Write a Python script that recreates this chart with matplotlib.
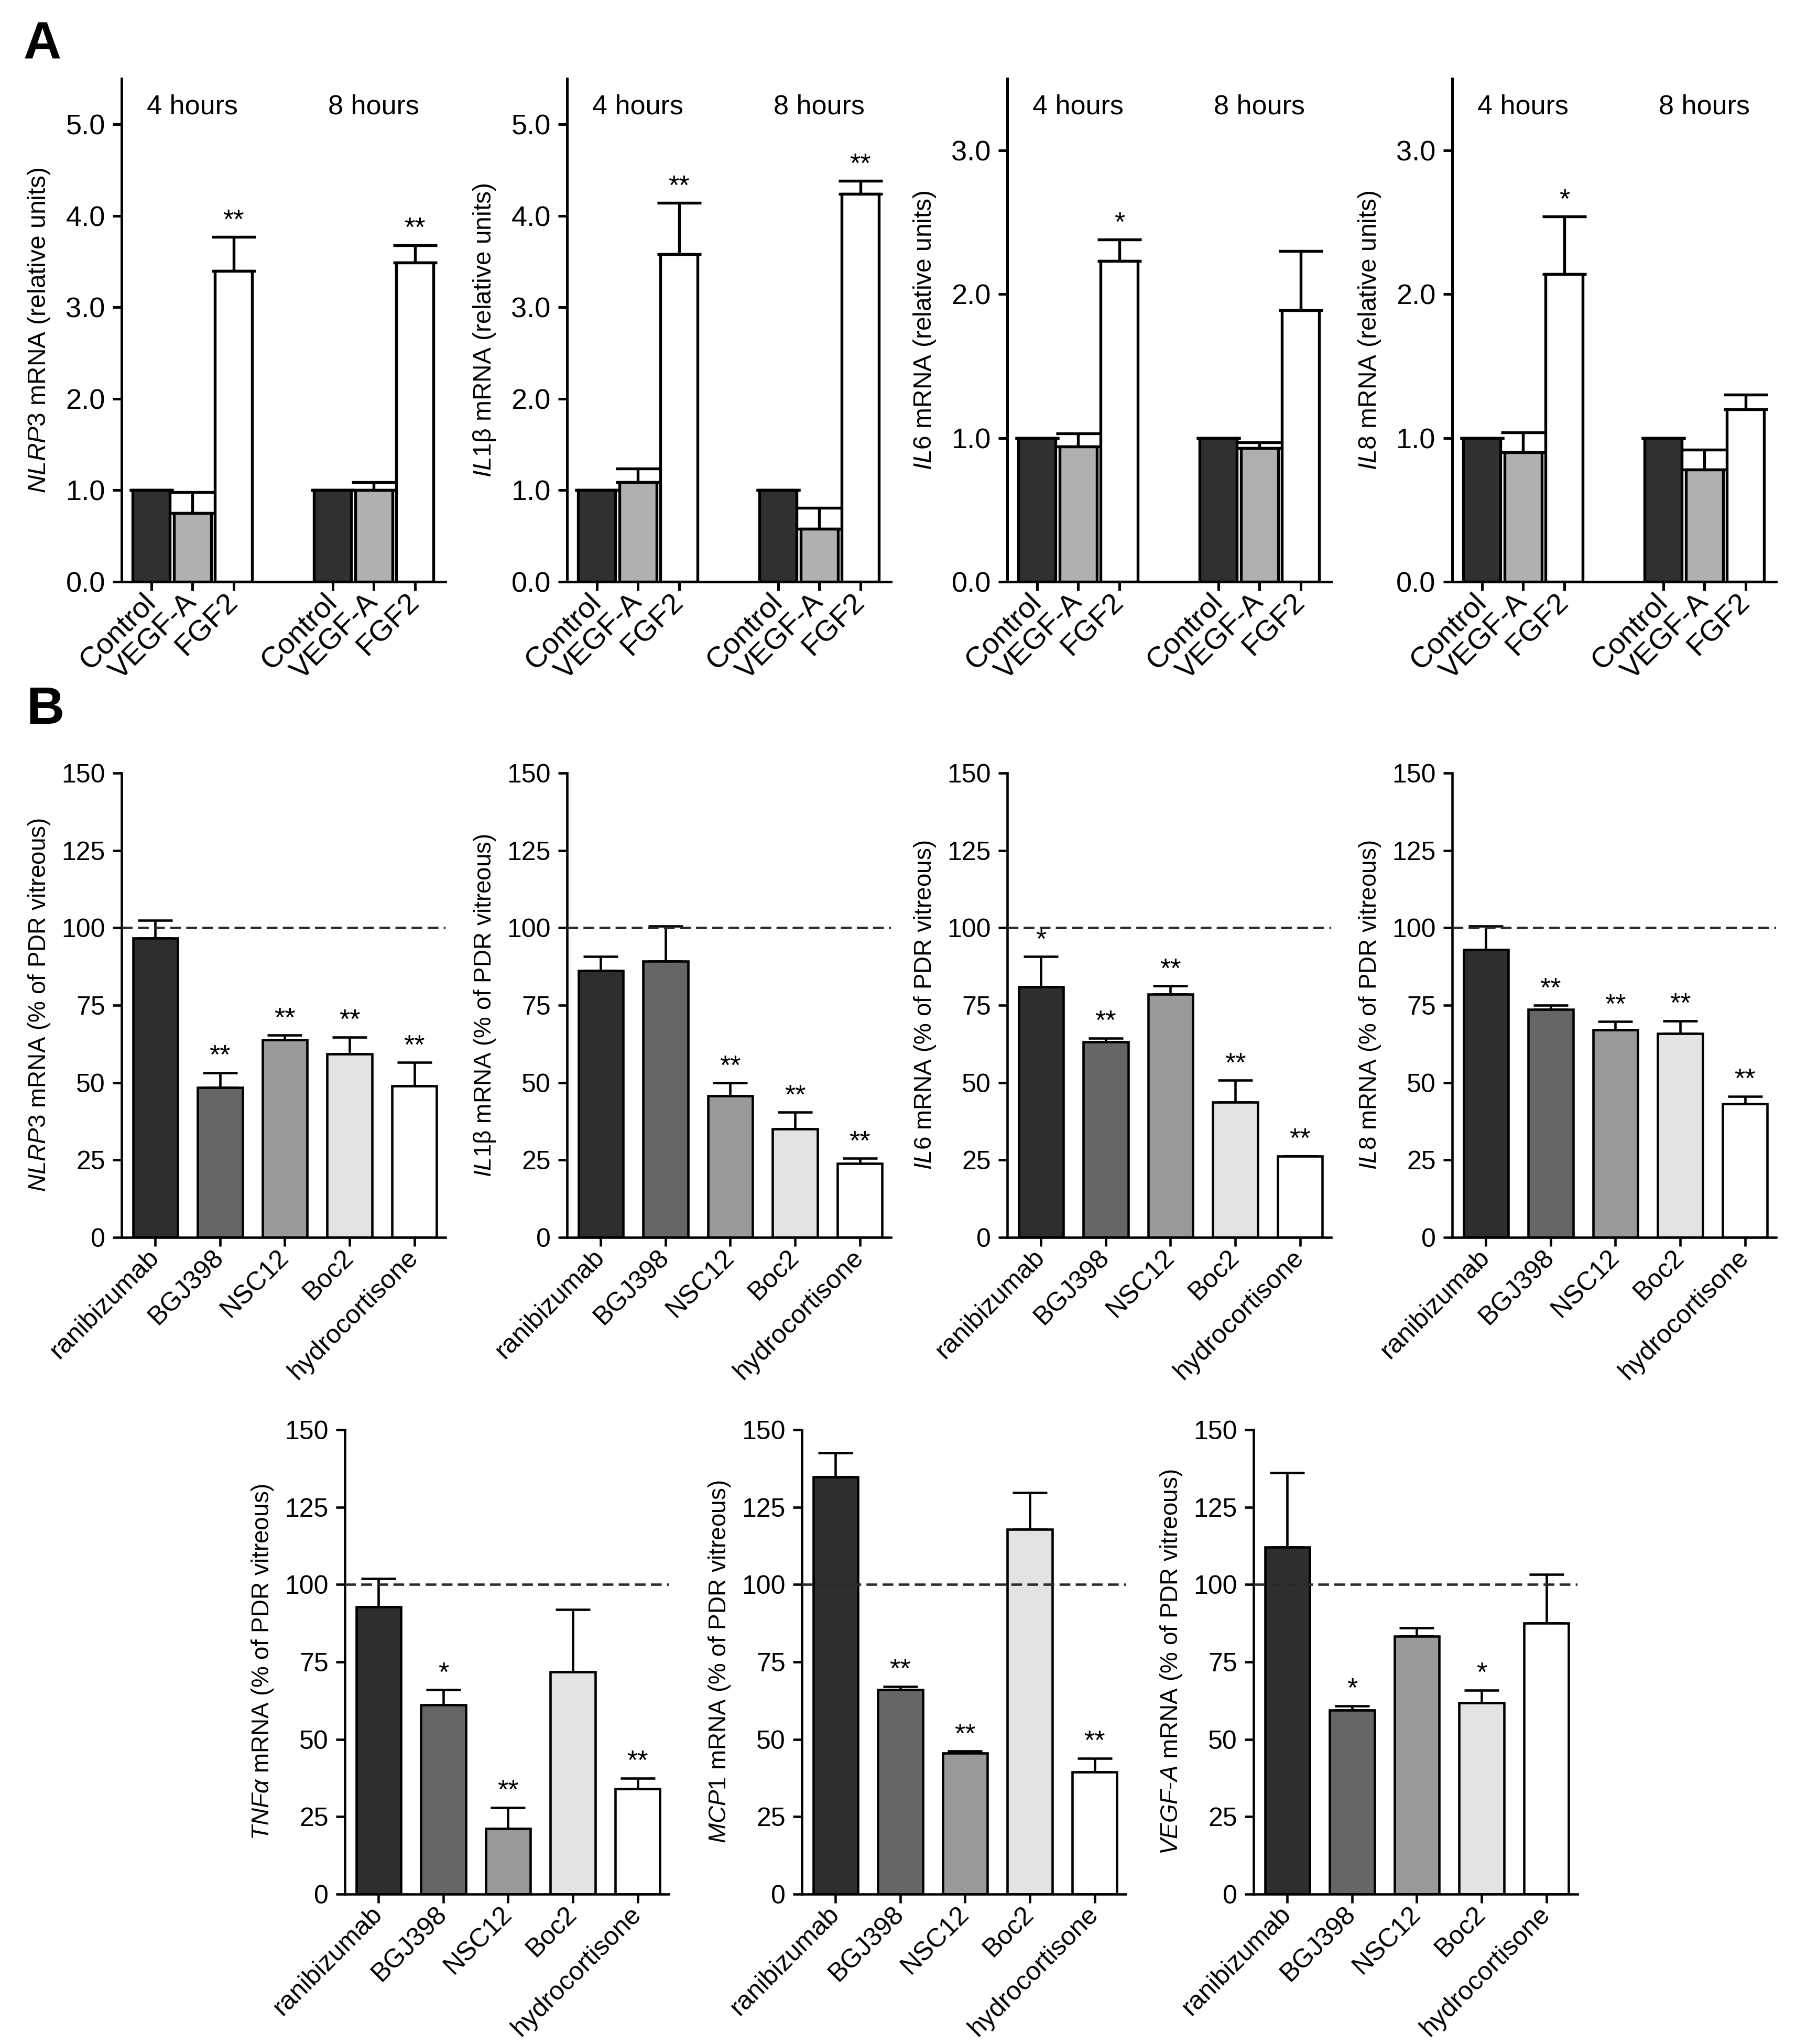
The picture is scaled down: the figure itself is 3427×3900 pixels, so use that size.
import matplotlib.pyplot as plt
import numpy as np

plt.rcParams['font.family'] = 'Liberation Sans'
plt.rcParams['mathtext.fontset'] = 'custom'
plt.rcParams['mathtext.rm'] = 'Liberation Sans'
plt.rcParams['mathtext.it'] = 'Liberation Sans:italic'

# ---- panel A data (relative units, mean and SEM) ----
a_times = ['4 hours', '8 hours']
a_treat = ['Control', 'VEGF-A', 'FGF2']

nlrp3_a = [1.0, 0.75, 3.40, 1.0, 1.00, 3.49]
nlrp3_a_sem = [0, 0.23, 0.37, 0, 0.09, 0.19]
nlrp3_a_sig = ['', '', '**', '', '', '**']

il1b_a = [1.0, 1.09, 3.58, 1.0, 0.58, 4.24]
il1b_a_sem = [0, 0.15, 0.56, 0, 0.23, 0.14]
il1b_a_sig = ['', '', '**', '', '', '**']

il6_a = [1.0, 0.94, 2.23, 1.0, 0.93, 1.89]
il6_a_sem = [0, 0.09, 0.15, 0, 0.04, 0.41]
il6_a_sig = ['', '', '*', '', '', '']

il8_a = [1.0, 0.90, 2.14, 1.0, 0.78, 1.20]
il8_a_sem = [0, 0.14, 0.40, 0, 0.14, 0.10]
il8_a_sig = ['', '', '*', '', '', '']

# ---- panel B data (% of PDR vitreous, mean and SEM) ----
b_treat = ['ranibizumab', 'BGJ398', 'NSC12', 'Boc2', 'hydrocortisone']

nlrp3_b = [96.6, 48.5, 63.8, 59.3, 48.9]
nlrp3_b_sem = [5.8, 4.7, 1.5, 5.4, 7.6]
nlrp3_b_sig = ['', '**', '**', '**', '**']

il1b_b = [86.2, 89.3, 45.7, 35.1, 23.9]
il1b_b_sem = [4.5, 11.3, 4.2, 5.3, 1.6]
il1b_b_sig = ['', '', '**', '**', '**']

il6_b = [80.9, 63.1, 78.5, 43.7, 26.3]
il6_b_sem = [9.8, 1.3, 2.7, 7.1, 0]
il6_b_sig = ['*', '**', '**', '**', '**']

il8_b = [93.0, 73.6, 67.0, 65.9, 43.1]
il8_b_sem = [7.6, 1.4, 2.7, 4.1, 2.5]
il8_b_sig = ['', '**', '**', '**', '**']

tnfa_b = [92.8, 61.2, 21.1, 71.7, 34.0]
tnfa_b_sem = [9.2, 4.8, 6.9, 20.3, 3.5]
tnfa_b_sig = ['', '*', '**', '', '**']

mcp1_b = [134.7, 66.1, 45.5, 117.8, 39.4]
mcp1_b_sem = [7.9, 1.0, 0.7, 11.8, 4.5]
mcp1_b_sig = ['', '**', '**', '', '**']

vegfa_b = [112.0, 59.5, 83.3, 61.8, 87.5]
vegfa_b_sem = [24.2, 1.3, 2.7, 4.1, 15.7]
vegfa_b_sig = ['', '*', '', '*', '']

a_colors = ['#303030', '#b0b0b0', '#ffffff'] * 2
b_colors = ['#2e2e2e', '#666666', '#999999', '#e3e3e3', '#ffffff']

W, H = 3427, 3900
fig = plt.figure(figsize=(W / 300, H / 300), dpi=300)


def add_ax(left, top, bottom, width=618):
    return fig.add_axes([left / W, 1 - bottom / H, width / W, (bottom - top) / H])


def style_ax(ax, lw):
    for s in ['top', 'right']:
        ax.spines[s].set_visible(False)
    for s in ['left', 'bottom']:
        ax.spines[s].set_linewidth(lw)
    ax.tick_params(direction='out', length=4, width=lw)


def draw_bars(ax, x, vals, sem, sig, colors, width, lw, capsize):
    vals = np.array(vals)
    sem = np.array(sem)
    ax.bar(x, vals, width=width, color=colors, edgecolor='black', linewidth=lw, zorder=2)
    ax.errorbar(x, vals, yerr=[np.zeros(len(vals)), sem], fmt='none', ecolor='black',
                elinewidth=lw, capsize=capsize, capthick=lw, zorder=1.5)
    for xi, v, e, s in zip(x, vals, sem, sig):
        if s:
            ax.annotate(s, (xi, v + e), xytext=(0, 4), textcoords='offset points',
                        ha='center', va='baseline', fontsize=12.5)


# ---- panel A ----
a_x = np.r_[np.arange(3), np.arange(3) + 4.4]
a_panels = [
    (nlrp3_a, nlrp3_a_sem, nlrp3_a_sig, r'$\mathit{NLRP3}$ mRNA (relative units)', 5),
    (il1b_a, il1b_a_sem, il1b_a_sig, r'$\mathit{IL1}$β mRNA (relative units)', 5),
    (il6_a, il6_a_sem, il6_a_sig, r'$\mathit{IL6}$ mRNA (relative units)', 3),
    (il8_a, il8_a_sem, il8_a_sig, r'$\mathit{IL8}$ mRNA (relative units)', 3),
]
a_lefts = [232, 1082, 1922, 2771]

for left, (vals, sem, sig, ylab, ymax) in zip(a_lefts, a_panels):
    ax = add_ax(left, 150, 1110)
    draw_bars(ax, a_x, vals, sem, sig, a_colors, 0.9, 1.3, 10)
    style_ax(ax, 1.2)
    ax.set_xlim(-0.72, 7.14)
    ax.set_ylim(0, ymax + 0.5)
    ax.set_yticks(np.arange(0, ymax + 1))
    ax.set_yticklabels(['%.1f' % t for t in np.arange(0, ymax + 1)], fontsize=13)
    ax.set_xticks(a_x)
    ax.set_xticklabels(a_treat * 2, rotation=45, ha='right', va='center',
                       rotation_mode='anchor', fontsize=13.5)
    ax.set_ylabel(ylab, fontsize=11.5)
    ax.yaxis.set_label_coords(-0.215, 0.5)
    for g, name in enumerate(a_times):
        ax.text(a_x[3 * g:3 * g + 3].mean(), 0.944, name, transform=ax.get_xaxis_transform(),
                ha='center', va='center', fontsize=12.5)

# ---- panel B ----
b_x = np.arange(5)
b_panels = [
    (nlrp3_b, nlrp3_b_sem, nlrp3_b_sig, r'$\mathit{NLRP3}$ mRNA (% of PDR vitreous)', 232, 1475, 2361),
    (il1b_b, il1b_b_sem, il1b_b_sig, r'$\mathit{IL1}$β mRNA (% of PDR vitreous)', 1082, 1475, 2361),
    (il6_b, il6_b_sem, il6_b_sig, r'$\mathit{IL6}$ mRNA (% of PDR vitreous)', 1922, 1475, 2361),
    (il8_b, il8_b_sem, il8_b_sig, r'$\mathit{IL8}$ mRNA (% of PDR vitreous)', 2771, 1475, 2361),
    (tnfa_b, tnfa_b_sem, tnfa_b_sig, r'$\mathit{TNFα}$ mRNA (% of PDR vitreous)', 658, 2728, 3614),
    (mcp1_b, mcp1_b_sem, mcp1_b_sig, r'$\mathit{MCP1}$ mRNA (% of PDR vitreous)', 1530, 2728, 3614),
    (vegfa_b, vegfa_b_sem, vegfa_b_sig, r'$\mathit{VEGF}$-$\mathit{A}$ mRNA (% of PDR vitreous)', 2392, 2728, 3614),
]

for vals, sem, sig, ylab, left, top, bottom in b_panels:
    ax = add_ax(left, top, bottom)
    draw_bars(ax, b_x, vals, sem, sig, b_colors, 0.69, 1.1, 8)
    ax.axhline(100, color='#2a2a2a', lw=1.1, ls=(0, (4.5, 2.2)), zorder=3)
    style_ax(ax, 1.1)
    ax.set_xlim(-0.52, 4.48)
    ax.set_ylim(0, 150)
    ax.set_yticks(np.arange(0, 151, 25))
    ax.tick_params(axis='y', labelsize=12)
    ax.set_xticks(b_x)
    ax.set_xticklabels(b_treat, rotation=45, ha='right', va='center',
                       rotation_mode='anchor', fontsize=12)
    ax.set_ylabel(ylab, fontsize=11)
    ax.yaxis.set_label_coords(-0.215, 0.5)

fig.text(45 / W, 1 - 40 / H, 'A', fontsize=24, fontweight='bold', ha='left', va='top')
fig.text(50 / W, 1 - 1308 / H, 'B', fontsize=24, fontweight='bold', ha='left', va='top')

fig.savefig('out.png', dpi=300)
